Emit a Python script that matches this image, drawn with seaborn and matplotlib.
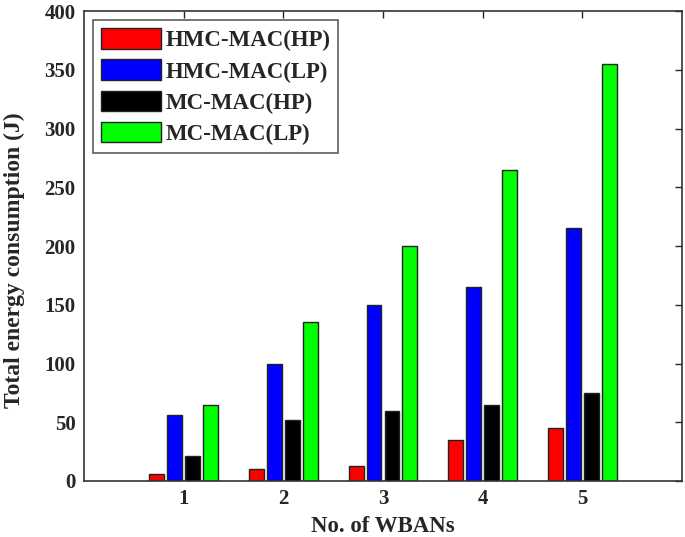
import matplotlib
matplotlib.use("Agg")
import matplotlib.pyplot as plt
import seaborn as sns
import pandas as pd

wbans = ["1", "2", "3", "4", "5"]
series = ["HMC-MAC(HP)", "HMC-MAC(LP)", "MC-MAC(HP)", "MC-MAC(LP)"]
hmc_hp = [6, 10, 13, 35, 45]
hmc_lp = [56, 100, 150, 165, 215]
mc_hp = [21, 52, 60, 65, 75]
mc_lp = [65, 135, 200, 265, 355]
colors = ["#FF0000", "#0000FF", "#000000", "#00FF00"]

rows = []
for name, vals in zip(series, [hmc_hp, hmc_lp, mc_hp, mc_lp]):
    for w, v in zip(wbans, vals):
        rows.append({"WBANs": w, "Series": name, "Energy": v})
df = pd.DataFrame(rows)

sns.set_style("white")
plt.rcParams["font.family"] = ["Liberation Serif", "DejaVu Serif"]
plt.rcParams["font.weight"] = "bold"

fig = plt.figure(figsize=(6.85, 5.37), dpi=100)
ax = fig.add_axes([0.1226, 0.1043, 0.873, 0.875])

sns.barplot(data=df, x="WBANs", y="Energy", hue="Series", order=wbans,
            hue_order=series, palette=colors, width=0.72, gap=0.17,
            edgecolor="#222222", linewidth=1.0, saturation=1, ax=ax,
            errorbar=None)

ax.set_xlim(-1, 5)
ax.set_ylim(0, 400)
ax.set_yticks(range(0, 401, 50))
ax.set_xlabel("No. of WBANs", fontsize=16.5, fontweight="bold", labelpad=5)
ax.set_ylabel("Total energy consumption (J)", fontsize=17, fontweight="bold")
ax.yaxis.set_label_coords(-0.099, 0.47)
ax.tick_params(axis="both", direction="in", top=True, right=True,
               labelsize=15, length=5, width=1, pad=6)
for lab in ax.get_xticklabels() + ax.get_yticklabels():
    lab.set_fontweight("bold")
for s in ax.spines.values():
    s.set_color("#333333")
    s.set_linewidth(1.2)

leg = ax.legend(loc="upper left", frameon=True, fancybox=False,
                edgecolor="#333333", handlelength=2.6, handleheight=1.0,
                borderpad=0.35, labelspacing=0.35, handletextpad=0.2,
                borderaxespad=0.4, prop={"weight": "bold", "size": 16.5})
leg.get_frame().set_linewidth(1.2)
for h in leg.legend_handles:
    h.set_edgecolor("#222222")

fig.savefig("out.png", dpi=100)
